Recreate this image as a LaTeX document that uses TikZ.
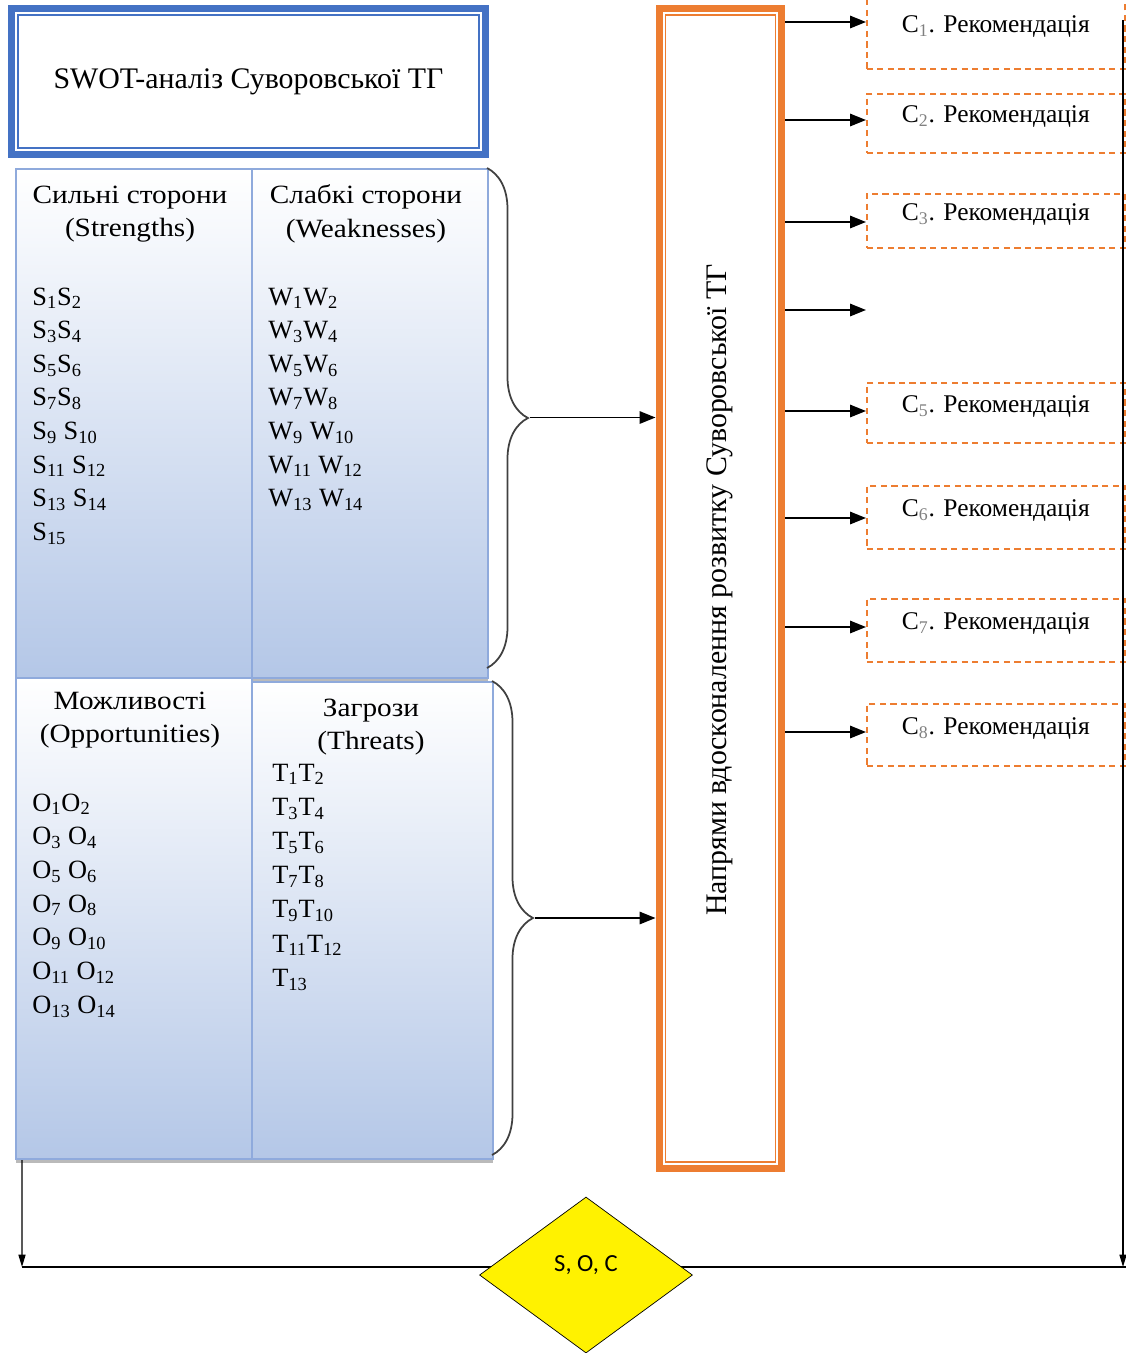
\documentclass[tikz,border=0pt]{standalone}
\usepackage{fontspec}
\setmainfont{Liberation Serif}
\newfontfamily\widefont{Liberation Serif}[FakeStretch=1.11]
\newfontfamily\calibri{Carlito}
\usetikzlibrary{arrows.meta,decorations.pathreplacing,shapes.geometric,shadows}
\definecolor{titleblue}{HTML}{4472C4}
\definecolor{cellblue}{HTML}{B4C7E7}
\definecolor{celledge}{HTML}{8FAADC}
\definecolor{dirorange}{HTML}{ED7D31}
\tikzset{
    titlebox/.style={draw=titleblue, line width=0.14cm, minimum width=9.48cm,
                     minimum height=2.92cm, font=\fontsize{17}{20}\selectfont},
    dirbox/.style={draw=dirorange, line width=0.14cm, minimum width=2.46cm,
                   minimum height=23.2cm},
    cell/.style={draw=celledge, line width=1.2pt, top color=white, bottom color=cellblue,
                 anchor=north west, inner sep=0pt,
                 drop shadow={shadow xshift=0pt, shadow yshift=-2.5pt, fill=black!45, opacity=.6}},
    head/.style={align=center, font=\widefont\fontsize{15}{19}\selectfont},
    item/.style={anchor=base west, inner sep=0pt, font=\fontsize{15}{18}\selectfont},
    recbox/.style={draw=dirorange, line width=0.9pt, dash pattern=on 3.5pt off 2.5pt,
                   anchor=north west, minimum width=5.16cm, text depth=0.35cm,
                   font=\fontsize{14.5}{17}\selectfont},
    curly/.style={decorate, decoration={brace, amplitude=0.82cm}, line width=1pt, draw=black!75},
    arr/.style={-{Triangle[length=9pt,width=7pt]}, line width=1pt},
    thinarr/.style={-{Triangle[length=7pt,width=4pt]}, line width=0.7pt},
    soc/.style={diamond, draw, fill=yellow, minimum width=4.26cm, minimum height=3.12cm,
                inner sep=0pt, text depth=0.47cm, font=\calibri\fontsize{14}{16}\selectfont},
}

\begin{document}
\begin{tikzpicture}[x=0.02cm,y=-0.02cm]
    \useasboundingbox (0,0) rectangle (1126,1353);

    % title
    \node[titlebox] (title) at (248.5,81.5) {SWOT-аналіз Суворовської ТГ};
    \draw[titleblue, line width=0.8pt] ([shift={(0.2cm,0.2cm)}]title.south west)
        rectangle ([shift={(-0.2cm,-0.2cm)}]title.north east);

    % SWOT cells
    \node[cell, minimum width=4.72cm, minimum height=10.18cm] (S) at (15,168) {};
    \node[cell, minimum width=4.72cm, minimum height=10.18cm] (W) at (251,168) {};
    \node[cell, minimum width=4.72cm, minimum height=9.62cm] (O) at (15,677) {};
    \node[cell, minimum width=4.82cm, minimum height=9.54cm] (T) at (251,681) {};

    \node[head] (Shead) at (130,214) {Сильні сторони\\(Strengths)};
    \node[head] (Whead) at (366,214) {Слабкі сторони\\(Weaknesses)};
    \node[head] (Ohead) at (130,720) {Можливості\\(Opportunities)};
    \node[head] (Thead) at (371,727) {Загрози\\(Threats)};

    \foreach \a/\b [count=\k from 0] in {1/2,3/4,5/6,7/8}
    {
        \node[item] (s\a) at (32,{305+33.6*\k}) {S\textsubscript{\a}S\textsubscript{\b}};
        \node[item] (w\a) at (268,{305+33.6*\k}) {W\textsubscript{\a}W\textsubscript{\b}};
    }
    \foreach \a/\b [count=\k from 4] in {9/10,11/12,13/14}
    {
        \node[item] (s\a) at (32,{305+33.6*\k}) {S\textsubscript{\a} S\textsubscript{\b}};
        \node[item] (w\a) at (268,{305+33.6*\k}) {W\textsubscript{\a} W\textsubscript{\b}};
    }
    \node[item] (s15) at (32,{305+33.6*7}) {S\textsubscript{15}};

    \node[item] (o1) at (32,811) {O\textsubscript{1}O\textsubscript{2}};
    \foreach \a/\b [count=\k from 1] in {3/4,5/6,7/8,9/10,11/12,13/14}
        \node[item] (o\a) at (32,{811+33.7*\k}) {O\textsubscript{\a} O\textsubscript{\b}};

    \foreach \a/\b [count=\k from 0] in {1/2,3/4,5/6,7/8,9/10,11/12}
        \node[item] (t\a) at (272,{781+34.2*\k}) {T\textsubscript{\a}T\textsubscript{\b}};
    \node[item] (t13) at (272,{781+34.2*6}) {T\textsubscript{13}};

    % development directions
    \node[dirbox] (dir) at (720.5,588.5) {};
    \draw[dirorange, line width=0.8pt] ([shift={(0.2cm,0.2cm)}]dir.south west)
        rectangle ([shift={(-0.2cm,-0.2cm)}]dir.north east);
    \node[rotate=90, font=\fontsize{17}{20}\selectfont] (dirtext) at (720,590)
        {Напрями вдосконалення розвитку Суворовської ТГ};

    % braces
    \draw[curly] (487,168) -- (487,668);
    \draw[curly] (492,681) -- (492,1155);
    \coordinate (b1) at (530,417.5);
    \coordinate (b2) at (535,918);
    \draw[arr] (b1) -- (dir.west |- b1);
    \draw[arr] (b2) -- (dir.west |- b2);

    % recommendations
    \foreach \n/\t/\h/\a in {1/-4/72/22, 2/93/59/120, 3/193/54/222, 5/382/60/411,
                             6/485/63/518, 7/598/63/627, 8/703/62/732}
    {
        \node[recbox, minimum height=\h*0.02cm] (c\n) at (866,\t)
            {C\textsubscript{\color{gray}\n}. Рекомендація};
        \draw[arr] (dir.east |- 0,\a) -- (c\n.west |- 0,\a);
    }
    \coordinate (c4) at (866,310);
    \draw[arr] (dir.east |- c4) -- (c4);

    % feedback loop
    \coordinate (rtop) at (1123,20);
    \coordinate (lft) at (22,1267);
    \coordinate (rgt) at (1123,1267);
    \draw[thinarr] ([xshift=0.14cm]O.south west) -- (lft);
    \draw[thinarr] (rtop) -- (rgt);
    \draw[line width=1pt] (lft) -- (1126,1267);
    \node[soc] (soc) at (586,1275) {S, O, C};
\end{tikzpicture}
\end{document}
